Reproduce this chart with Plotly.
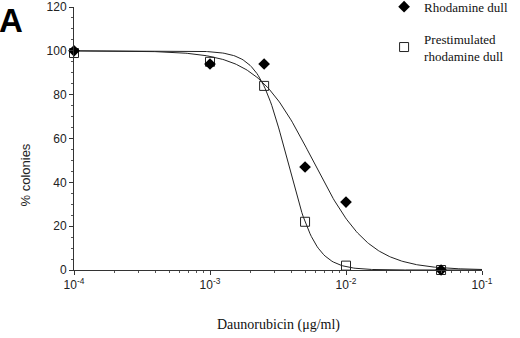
import numpy as np
import plotly.graph_objects as go

# Data
dose = [1e-4, 1e-3, 2.5e-3, 5e-3, 1e-2, 5e-2]
rhodamine_dull = [100, 94, 94, 47, 31, 0]
prestim_dull = [99, 95, 84, 22, 2, 0]

# Fitted sigmoid (Hill) curve parameters
rho_ic50, rho_slope = 0.0057, 2.1
pre_ic50, pre_slope = 0.0037, 4.2

xtick_vals = [1e-4, 1e-3, 1e-2, 1e-1]
xtick_text = ["10<sup>-4</sup>", "10<sup>-3</sup>", "10<sup>-2</sup>", "10<sup>-1</sup>"]
ytick_vals = [0, 20, 40, 60, 80, 100, 120]

xc = np.logspace(-4, -1, 300)
def hill(x, c, n):
    return 100.0 / (1.0 + (x / c) ** n)

fig = go.Figure()
fig.add_trace(go.Scatter(x=xc, y=hill(xc, rho_ic50, rho_slope), mode="lines",
                         line=dict(color="#222", width=1), showlegend=False, hoverinfo="skip"))
fig.add_trace(go.Scatter(x=xc, y=hill(xc, pre_ic50, pre_slope), mode="lines",
                         line=dict(color="#222", width=1), showlegend=False, hoverinfo="skip"))
fig.add_trace(go.Scatter(x=dose, y=prestim_dull, mode="markers", name="Prestimulated<br>rhodamine dull",
                         legendgroup="b", legendrank=2,
                         marker=dict(symbol="square-open", size=9, color="#222", line=dict(width=1)),
                         cliponaxis=False))
fig.add_trace(go.Scatter(x=dose, y=rhodamine_dull, mode="markers", name="Rhodamine dull",
                         legendgroup="a", legendrank=1,
                         marker=dict(symbol="diamond", size=9, color="black"),
                         cliponaxis=False))

minor_x = [m * 10.0 ** e for e in (-4, -3, -2) for m in range(2, 10)]

fig.update_layout(
    width=520, height=338,
    margin=dict(l=74, r=38, t=7, b=68, autoexpand=False),
    paper_bgcolor="white", plot_bgcolor="white",
    font=dict(family="Liberation Sans, Arial", size=12, color="#222"),
    legend=dict(x=0.76, y=1.058, xanchor="left", yanchor="top",
                font=dict(family="Liberation Serif, Times New Roman", size=13, color="#111"),
                bgcolor="rgba(0,0,0,0)", tracegroupgap=12),
    xaxis=dict(type="log", range=[-4, -1], tickmode="array", tickvals=xtick_vals, ticktext=xtick_text,
               showgrid=False, zeroline=False, showline=True, linecolor="#333", linewidth=1,
               ticks="outside", ticklen=4, tickcolor="#333",
               minor=dict(tickmode="array", tickvals=minor_x, ticks="outside", ticklen=2, tickcolor="#555"),
               tickfont=dict(size=12)),
    yaxis=dict(range=[0, 120], tickmode="array", tickvals=ytick_vals,
               showgrid=False, zeroline=False, showline=True, linecolor="#333", linewidth=1,
               ticks="outside", ticklen=4, tickcolor="#333",
               minor=dict(dtick=5, ticks="outside", ticklen=2, tickcolor="#555"),
               tickfont=dict(size=12)),
    annotations=[
        dict(text="A", x=0, y=1.0, xref="paper", yref="paper", xanchor="left", yanchor="top",
             xshift=-77, yshift=7, showarrow=False,
             font=dict(family="Liberation Sans, Arial", size=33, color="black", weight="bold")),
        dict(text="% colonies", x=0, y=0.5, xref="paper", yref="paper", xanchor="center", yanchor="middle",
             xshift=-49, yshift=-37, textangle=-90, showarrow=False,
             font=dict(family="Liberation Sans, Arial", size=13, color="#222")),
        dict(text="Daunorubicin (μg/ml)", x=0.5, y=0, xref="paper", yref="paper", xanchor="center",
             yanchor="middle", xshift=0, yshift=-55, showarrow=False,
             font=dict(family="Liberation Serif, Times New Roman", size=14, color="#111")),
    ],
)

fig.write_html("out.html", config={"displayModeBar": False},
               post_script="document.body.style.margin='0';document.body.style.overflow='hidden';")
